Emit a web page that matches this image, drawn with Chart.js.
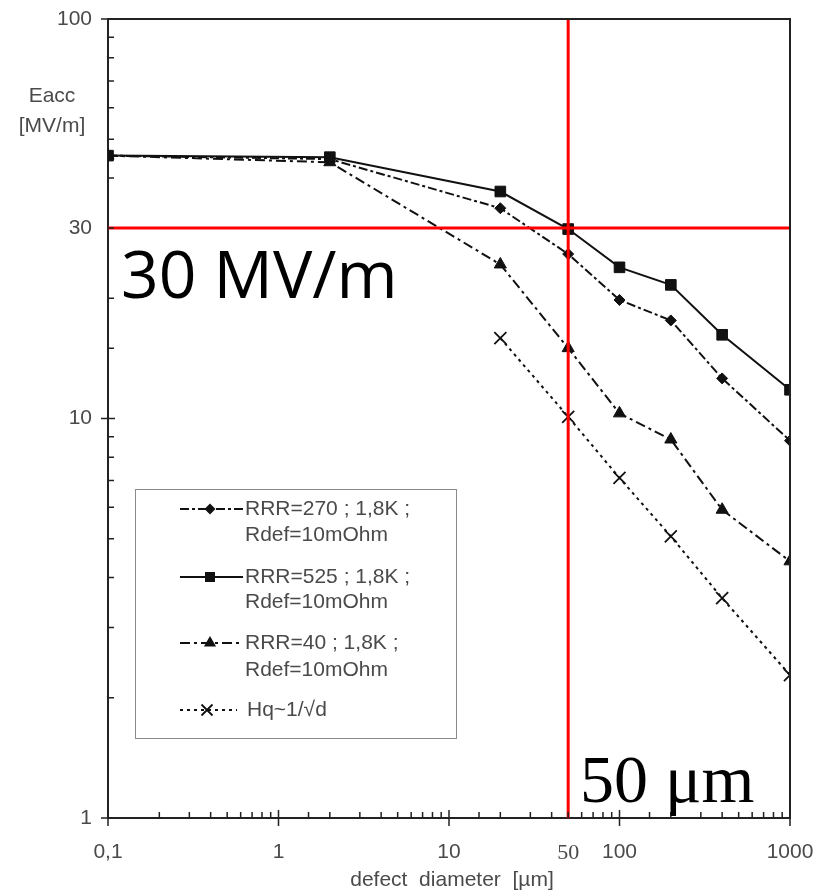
<!DOCTYPE html>
<html>
<head>
<meta charset="utf-8">
<script src="https://cdn.jsdelivr.net/npm/chart.js"></script>
<style>
  body { margin: 0; background: #fff; }
  #wrap { width: 815px; height: 894px; }
</style>
</head>
<body>
<div id="wrap"><canvas id="chart" width="815" height="894"></canvas></div>
<script>
// defect diameters [um] and accelerating field [MV/m]
const diameters = [0.1, 2, 20, 50, 100, 200, 400, 1000];
const rrr270 = [45.5, 44.6, 33.6, 25.8, 19.8, 17.6, 12.6, 8.8];
const rrr525 = [45.5, 45.1, 37.0, 29.8, 23.9, 21.6, 16.2, 11.8];
const rrr40 = [45.5, 43.8, 24.3, 15.0, 10.3, 8.86, 5.91, 4.39];
const hqDiameters = [20, 50, 100, 200, 400, 1000];
const hqField = [15.9, 10.1, 7.1, 5.07, 3.55, 2.28];

// tick labels and the two red reference lines
const xTickLabels = [0.1, 1, 10, 50, 100, 1000];
const yTickLabels = [1, 10, 30, 100];
const refField = 30;
const refDiameter = 50;

const textFont = 'Liberation Sans, Arial, sans-serif';
const textGray = '#4a4a4a';

function toPoints(xs, ys) {
    return xs.map((x, i) => ({ x: x, y: ys[i] }));
}

function sameValue(a, b) {
    return Math.abs(Math.log10(a) - Math.log10(b)) < 1e-6;
}

function isDecade(v) {
    const l = Math.log10(v);
    return Math.abs(l - Math.round(l)) < 1e-6;
}

function fmt(v) {
    return String(v).replace('.', ',');
}

const series = [
    { label: ['RRR=270 ; 1,8K ;', 'Rdef=10mOhm'], xs: diameters, ys: rrr270, style: 'rectRot', radius: 5.5, dash: [9, 3, 3, 3] },
    { label: ['RRR=525 ; 1,8K ;', 'Rdef=10mOhm'], xs: diameters, ys: rrr525, style: 'rect', radius: 7.5, dash: [] },
    { label: ['RRR=40 ; 1,8K ;', 'Rdef=10mOhm'], xs: diameters, ys: rrr40, style: 'triangle', radius: 7, dash: [10, 4, 3, 4] },
    { label: ['Hq~1/\u221Ad'], xs: hqDiameters, ys: hqField, style: 'crossRot', radius: 8.5, dash: [3, 4] }
];

const datasets = series.map(s => ({
    label: s.label.join(' '),
    data: toPoints(s.xs, s.ys),
    borderColor: '#111',
    backgroundColor: '#111',
    borderWidth: 2,
    borderDash: s.dash,
    pointStyle: s.style,
    pointRadius: s.radius,
    pointBorderWidth: s.style === 'crossRot' ? 1.8 : 1,
    pointBackgroundColor: '#111',
    pointBorderColor: '#111',
    tension: 0,
    order: 1
}));

// red reference lines
datasets.push({
    data: [{ x: 0.1, y: refField }, { x: 1000, y: refField }],
    borderColor: '#ff0000', borderWidth: 3, pointRadius: 0, order: 0
});
datasets.push({
    data: [{ x: refDiameter, y: 1 }, { x: refDiameter, y: 100 }],
    borderColor: '#ff0000', borderWidth: 3, pointRadius: 0, order: 0
});

// small marker drawing for the legend
function drawMarker(ctx, style, x, y) {
    ctx.save();
    ctx.setLineDash([]);
    ctx.fillStyle = '#111';
    ctx.strokeStyle = '#111';
    ctx.beginPath();
    if (style === 'rect') {
        ctx.rect(x - 5, y - 5, 10, 10);
        ctx.fill();
    } else if (style === 'rectRot') {
        const r = 5.5;
        ctx.moveTo(x, y - r); ctx.lineTo(x + r, y); ctx.lineTo(x, y + r); ctx.lineTo(x - r, y);
        ctx.closePath(); ctx.fill();
    } else if (style === 'triangle') {
        const r = 7;
        ctx.moveTo(x, y - r); ctx.lineTo(x + r * 0.87, y + r * 0.5); ctx.lineTo(x - r * 0.87, y + r * 0.5);
        ctx.closePath(); ctx.fill();
    } else {
        const d = 5.5;
        ctx.lineWidth = 1.8;
        ctx.moveTo(x - d, y - d); ctx.lineTo(x + d, y + d);
        ctx.moveTo(x + d, y - d); ctx.lineTo(x - d, y + d);
        ctx.stroke();
    }
    ctx.restore();
}

const decorPlugin = {
    id: 'decor',
    afterDraw(chart) {
        const ctx = chart.ctx;
        const a = chart.chartArea;
        const xs = chart.scales.x;
        const ys = chart.scales.y;
        ctx.save();

        // frame top and right
        ctx.strokeStyle = '#222';
        ctx.lineWidth = 2;
        ctx.beginPath();
        ctx.moveTo(a.left, a.top); ctx.lineTo(a.right, a.top); ctx.lineTo(a.right, a.bottom);
        ctx.stroke();

        // tick marks pointing into the plot
        ctx.lineWidth = 1.5;
        ctx.beginPath();
        ys.ticks.forEach(t => {
            const p = ys.getPixelForValue(t.value);
            if (isDecade(t.value)) { ctx.moveTo(a.left - 7, p); ctx.lineTo(a.left + 7, p); }
            else { ctx.moveTo(a.left, p); ctx.lineTo(a.left + 6, p); }
        });
        xs.ticks.forEach(t => {
            const p = xs.getPixelForValue(t.value);
            if (isDecade(t.value)) { ctx.moveTo(p, a.bottom - 8); ctx.lineTo(p, a.bottom + 8); }
            else { ctx.moveTo(p, a.bottom); ctx.lineTo(p, a.bottom - 6); }
        });
        ctx.stroke();

        // axis titles
        ctx.fillStyle = textGray;
        ctx.font = '21px ' + textFont;
        ctx.textAlign = 'center';
        ctx.textBaseline = 'middle';
        ctx.fillText('Eacc', 52, 96);
        ctx.fillText('[MV/m]', 52, 126);
        ctx.fillText('defect  diameter  [\u00B5m]', 452, 880);

        // legend box
        ctx.strokeStyle = '#8a8a8a';
        ctx.lineWidth = 1;
        ctx.strokeRect(135.5, 489.5, 321, 249);
        const rows = [509, 577, 643, 710];
        const subRows = [535, 602, 670];
        series.forEach((s, i) => {
            const y = rows[i];
            const x1 = i === 3 ? 237 : 243;
            const mx = i === 3 ? 207 : 210;
            ctx.strokeStyle = '#111';
            ctx.lineWidth = 2;
            ctx.setLineDash(s.dash);
            ctx.beginPath();
            ctx.moveTo(180, y); ctx.lineTo(x1, y);
            ctx.stroke();
            ctx.setLineDash([]);
            drawMarker(ctx, s.style, mx, y);
            ctx.fillStyle = textGray;
            ctx.font = '21px ' + textFont;
            ctx.textAlign = 'left';
            ctx.textBaseline = 'middle';
            ctx.fillText(s.label[0], i === 3 ? 247 : 245, y);
            if (s.label[1]) ctx.fillText(s.label[1], 245, subRows[i]);
        });

        // big annotations
        ctx.fillStyle = '#000';
        ctx.textBaseline = 'alphabetic';
        ctx.textAlign = 'left';
        ctx.font = '66px "Open Sans", "Noto Sans", sans-serif';
        ctx.fillText(refField + ' MV/m', 121, 298);
        ctx.font = '68px "Liberation Serif", serif';
        ctx.fillText(refDiameter + ' \u03BCm', 580, 802);
        ctx.restore();
    }
};

const ctx = document.getElementById('chart').getContext('2d');
new Chart(ctx, {
    type: 'line',
    data: { datasets: datasets },
    plugins: [decorPlugin],
    options: {
        responsive: false,
        animation: false,
        layout: { padding: { left: 20, right: 25, top: 19, bottom: 16 } },
        plugins: { legend: { display: false }, tooltip: { enabled: false } },
        scales: {
            x: {
                type: 'logarithmic',
                min: 0.1,
                max: 1000,
                grid: { display: false, drawTicks: false },
                border: { display: true, color: '#222', width: 2 },
                ticks: {
                    autoSkip: false,
                    maxRotation: 0,
                    padding: 22,
                    color: textGray,
                    font: c => (c.tick && sameValue(c.tick.value, refDiameter))
                        ? { family: 'Liberation Serif, serif', size: 22 }
                        : { family: textFont, size: 21 },
                    callback: v => xTickLabels.some(t => sameValue(t, v)) ? fmt(v) : ''
                },
                afterFit: s => { s.height = 60; s.paddingLeft = 0; s.paddingRight = 0; }
            },
            y: {
                type: 'logarithmic',
                min: 1,
                max: 100,
                grid: { display: false, drawTicks: false },
                border: { display: true, color: '#222', width: 2 },
                ticks: {
                    autoSkip: false,
                    padding: 16,
                    color: textGray,
                    font: { family: textFont, size: 21 },
                    callback: v => yTickLabels.some(t => sameValue(t, v)) ? String(v) : ''
                },
                afterFit: s => { s.width = 88; s.paddingTop = 0; s.paddingBottom = 0; }
            }
        }
    }
});
</script>
</body>
</html>
